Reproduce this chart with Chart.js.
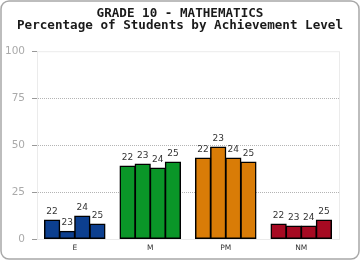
<!DOCTYPE html>
<html>
<head>
<meta charset="utf-8">
<script src="https://cdn.jsdelivr.net/npm/chart.js@4"></script>
<style>
  body { margin: 0; background: #fff; }
  #wrap { width: 360px; height: 260px; }
</style>
</head>
<body>
<div id="wrap"><canvas id="chart" width="360" height="260"></canvas></div>
<script>
// achievement levels and school years
const levels = ['E', 'M', 'PM', 'NM'];
const years = ['22', '23', '24', '25'];
const levelColors = ['#0c3f8f', '#0a9628', '#d97c07', '#a60a22'];

// percent of students per year, one value per level
const y22 = [10, 38.8, 43.1, 8];
const y23 = [4.1, 39.9, 48.9, 6.9];
const y24 = [12.2, 37.8, 43.1, 6.9];
const y25 = [8, 41, 41, 10];

const yTicks = [0, 25, 50, 75, 100];

// rounded frame around the whole picture + light plot border
const framePlugin = {
  id: 'frame',
  beforeDraw(chart) {
    const ctx = chart.ctx;
    ctx.save();
    ctx.fillStyle = '#fff';
    ctx.fillRect(0, 0, chart.width, chart.height);
    ctx.restore();
  },
  beforeDatasetsDraw(chart) {
    const ctx = chart.ctx, a = chart.chartArea;
    ctx.save();
    ctx.strokeStyle = '#ebebeb';
    ctx.lineWidth = 1;
    ctx.strokeRect(a.left + 0.5, a.top + 0.5, a.right - a.left, a.bottom - a.top);
    ctx.restore();
  },
  afterDraw(chart) {
    const ctx = chart.ctx;
    ctx.save();
    ctx.strokeStyle = '#a8a8a8';
    ctx.lineWidth = 1.5;
    ctx.beginPath();
    ctx.roundRect(1, 1, chart.width - 2, chart.height - 2, 8);
    ctx.stroke();
    ctx.restore();
  }
};

// year label above each bar
const barLabels = {
  id: 'barLabels',
  afterDatasetsDraw(chart) {
    const ctx = chart.ctx;
    ctx.save();
    ctx.font = '9px "DejaVu Sans"';
    ctx.fillStyle = '#333';
    ctx.textAlign = 'center';
    ctx.textBaseline = 'bottom';
    chart.data.datasets.forEach(function (ds, i) {
      chart.getDatasetMeta(i).data.forEach(function (bar) {
        ctx.fillText(ds.label, bar.x, bar.y - 4);
      });
    });
    ctx.restore();
  }
};

function makeSet(label, data) {
  return {
    label: label,
    data: data,
    backgroundColor: levelColors,
    borderColor: '#000',
    borderWidth: 1.5,
    borderSkipped: false,
    inflateAmount: 0.6,
    categoryPercentage: 0.8,
    barPercentage: 1.0
  };
}

new Chart(document.getElementById('chart'), {
  type: 'bar',
  data: {
    labels: levels,
    datasets: [
      makeSet(years[0], y22),
      makeSet(years[1], y23),
      makeSet(years[2], y24),
      makeSet(years[3], y25)
    ]
  },
  options: {
    responsive: false,
    animation: false,
    layout: { padding: 0 },
    plugins: {
      legend: { display: false },
      tooltip: { enabled: false },
      title: {
        display: true,
        text: ['GRADE 10 - MATHEMATICS', 'Percentage of Students by Achievement Level'],
        color: '#1a1a1a',
        font: { family: '"DejaVu Sans Mono"', size: 12.6, weight: 'bold', lineHeight: 1.0 },
        padding: { top: 7, bottom: 19 }
      }
    },
    scales: {
      x: {
        grid: { display: false, drawTicks: false },
        border: { color: '#e0e0e0' },
        ticks: { color: '#333', font: { family: '"DejaVu Sans"', size: 7.5 }, padding: 5 },
        afterFit(scale) { scale.height = 21; }
      },
      y: {
        min: 0,
        max: 100,
        afterBuildTicks(scale) { scale.ticks = yTicks.map(v => ({ value: v })); },
        grid: {
          color: ctx => (ctx.tick && (ctx.tick.value === 0 || ctx.tick.value === 100)) ? 'rgba(0,0,0,0)' : '#b4b4b4',
          tickColor: '#999',
          tickLength: 5
        },
        border: { color: '#ececec', dash: [1, 1] },
        ticks: { color: '#aaa', font: { family: '"DejaVu Sans"', size: 10.5 }, padding: 7 },
        afterFit(scale) { scale.width = 37; }
      },
      // empty right margin so the title stays centred on the full picture
      pad: {
        type: 'linear',
        position: 'right',
        display: true,
        ticks: { display: false },
        grid: { display: false, drawTicks: false },
        border: { display: false },
        afterFit(scale) { scale.width = 21; }
      }
    }
  },
  plugins: [framePlugin, barLabels]
});
</script>
</body>
</html>
